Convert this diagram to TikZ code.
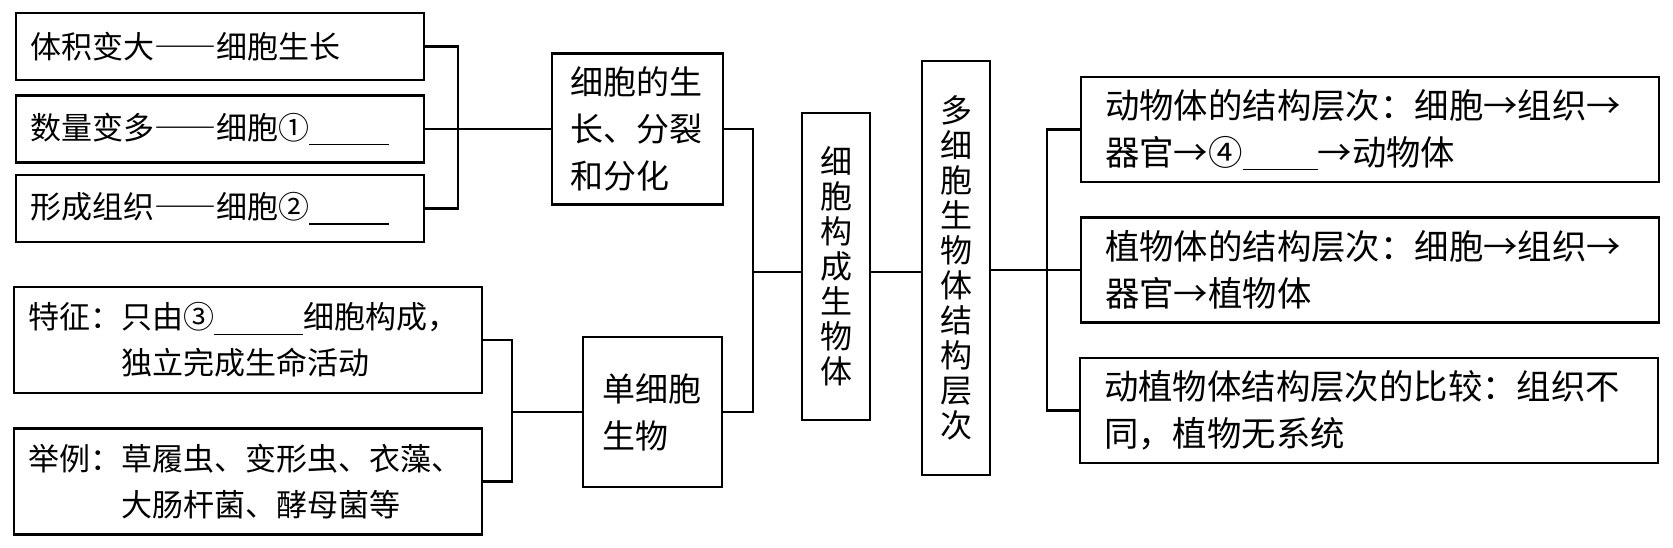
\documentclass[tikz,border=0pt]{standalone}
\usepackage{fontspec}
\setmainfont{Noto Sans CJK SC}
\newcommand{\blankline}[2]{\rule[#1]{#2}{0.6pt}}
\newcommand{\longdash}{{\addfontfeatures{RawFeature=+fwid}——}}

\begin{document}
\begin{tikzpicture}[x=0.5pt,y=-0.5pt,line width=1.1pt,
	box/.style={draw,align=left,inner ysep=0pt},
	lbox/.style={box,font=\fontsize{15.5pt}{23pt}\selectfont,text width=190pt,inner xsep=7pt,minimum height=33.5pt},
	fbox/.style={box,font=\fontsize{15.5pt}{23pt}\selectfont,text width=220pt,inner xsep=7pt,minimum height=53pt},
	mbox/.style={box,font=\fontsize{16.5pt}{23.5pt}\selectfont,minimum height=#1},
	vbox/.style={draw,align=center,font=\fontsize{16pt}{17.5pt}\selectfont,text width=16pt,inner sep=0pt,minimum width=34pt,minimum height=#1},
	rbox/.style={box,font=\fontsize{17.2pt}{23.5pt}\selectfont,text width=265pt,inner xsep=12pt,minimum height=52.5pt}]
	\useasboundingbox (0,0) rectangle (1673,547);

	\node[lbox] (g1) at (220,46.5) {体积变大\longdash 细胞生长};
	\node[lbox] (g2) at (220,129) {数量变多\longdash 细胞①\blankline{-3pt}{40pt}};
	\node[lbox] (g3) at (220,208.5) {形成组织\longdash 细胞②\blankline{-3pt}{40pt}};
	\node[mbox=75.5pt,text width=67.5pt,inner xsep=9pt] (grow) at (637.5,129) {细胞的生\\长、分裂\\和分化};

	\node[fbox] (f1) at (248,340) {特征：只由③\blankline{-3pt}{44.5pt}细胞构成，\\\hspace*{3em}独立完成生命活动};
	\node[fbox] (f2) at (248,481.5) {举例：草履虫、变形虫、衣藻、\\\hspace*{3em}大肠杆菌、酵母菌等};
	\node[mbox=75pt,text width=50pt,inner xsep=9.75pt] (uni) at (652.5,412) {单细胞\\生物};

	\node[vbox=153.5pt] (form) at (836,266.5) {细\\胞\\构\\成\\生\\物\\体};
	\node[vbox=207pt] (multi) at (956,268) {多\\细\\胞\\生\\物\\体\\结\\构\\层\\次};

	\node[rbox] (r1) at (1370,129.5) {动物体的结构层次：细胞→组织→\\器官→④\blankline{-2.5pt}{37.5pt}→动物体};
	\node[rbox] (r2) at (1370,270) {植物体的结构层次：细胞→组织→\\器官→植物体};
	\node[rbox] (r3) at (1369,410.5) {动植物体结构层次的比较：组织不\\同，植物无系统};

	\coordinate (j1) at (458,129);
	\coordinate (j2) at (512,412);
	\coordinate (j3) at (753,272);
	\coordinate (j4) at (1047,270);

	\draw (g1.east) -| (j1) |- (g3.east);
	\draw (g2.east) -- (grow.west);
	\draw (f1.east) -| (j2) |- (f2.east);
	\draw (j2) -- (uni.west);
	\draw (grow.east) -| (j3) |- (uni.east);
	\draw (j3) -- (j3 -| form.west);
	\draw (j3 -| form.east) -- (j3 -| multi.west);
	\draw (multi.east |- j4) -- (j4);
	\draw (r1.west) -| (j4) |- (r3.west);
	\draw (j4) -- (r2.west);
\end{tikzpicture}
\end{document}
